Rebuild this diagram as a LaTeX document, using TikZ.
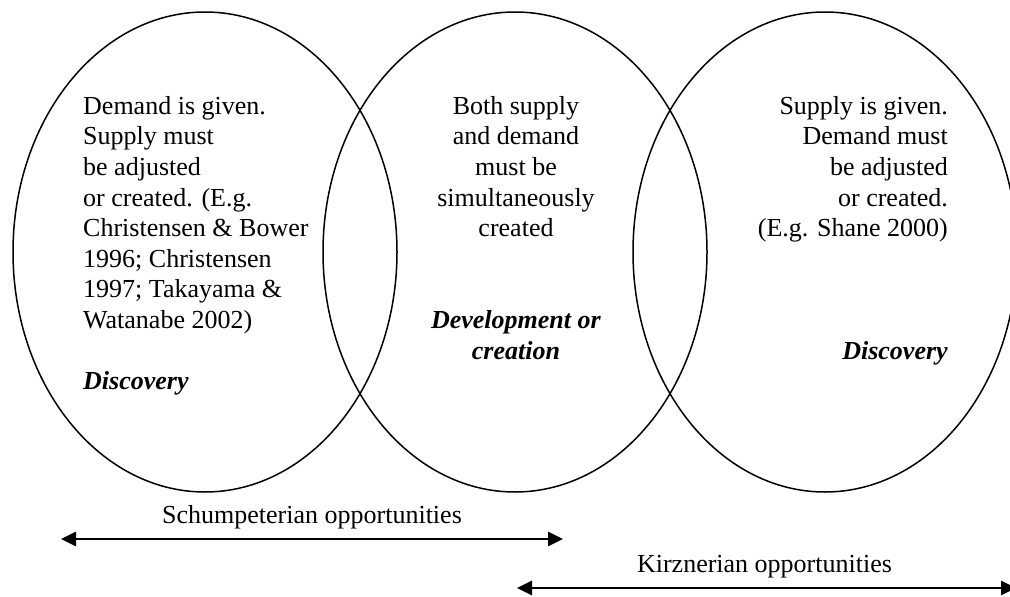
\documentclass[tikz,border=0pt]{standalone}
\usepackage{fontspec}
\setmainfont{Liberation Serif}
\usetikzlibrary{arrows.meta, positioning, shapes.geometric}

\tikzset{
  venn/.style={draw, ellipse, line width=1.5pt, minimum width=384pt, minimum height=480pt, inner sep=0pt},
  blurb/.style={inner sep=0pt, font=\fontsize{26}{30.6}\selectfont},
  oppo/.style={{Triangle[length=15pt,width=14pt]}-{Triangle[length=15pt,width=14pt]}, line width=2.7pt},
  oppolabel/.style={above=5pt, font=\fontsize{26}{30.6}\selectfont}
}
\newcommand{\oppkind}[1]{\textbf{\textit{#1}}}

\begin{document}
\begin{tikzpicture}[x=1pt, y=-1pt]
    \useasboundingbox (0,0) rectangle (1010,597);
    % the three circles
    \node[venn] (demandside) at (205,252) {};
    \node[venn] (bothsides) at (515,252) {};
    \node[venn] (supplyside) at (825,252) {};
    % what goes in them
    \node[blurb, anchor=north west, align=left] (demandtext) at (83,96)
      {Demand is given.\\ Supply must\\ be adjusted\\ or created. (E.g.\\
       Christensen \& Bower\\ 1996; Christensen\\ 1997; Takayama \&\\
       Watanabe 2002)\\[30.6pt] \oppkind{Discovery}};
    \node[blurb, anchor=north, align=center] (bothtext) at (516,96)
      {Both supply\\ and demand\\ must be\\ simultaneously\\ created\\[61.2pt]
       \oppkind{Development or}\\ \oppkind{creation}};
    \node[blurb, anchor=north east, align=right] (supplytext) at (948,96)
      {Supply is given.\\ Demand must\\ be adjusted\\ or created.\\
       (E.g. Shane 2000)\\[91.8pt] \oppkind{Discovery}};
    % the two spans underneath
    \coordinate (schumleft) at (61,539);
    \coordinate (schumright) at (563,539);
    \coordinate (kirzleft) at (517,588);
    \coordinate (kirzright) at (1016,588);
    \draw[oppo] (schumleft) -- node[oppolabel] (schumlabel) {Schumpeterian opportunities} (schumright);
    \draw[oppo] (kirzleft) -- node[oppolabel, xshift=-2pt] (kirzlabel) {Kirznerian opportunities} (kirzright);
\end{tikzpicture}
\end{document}
